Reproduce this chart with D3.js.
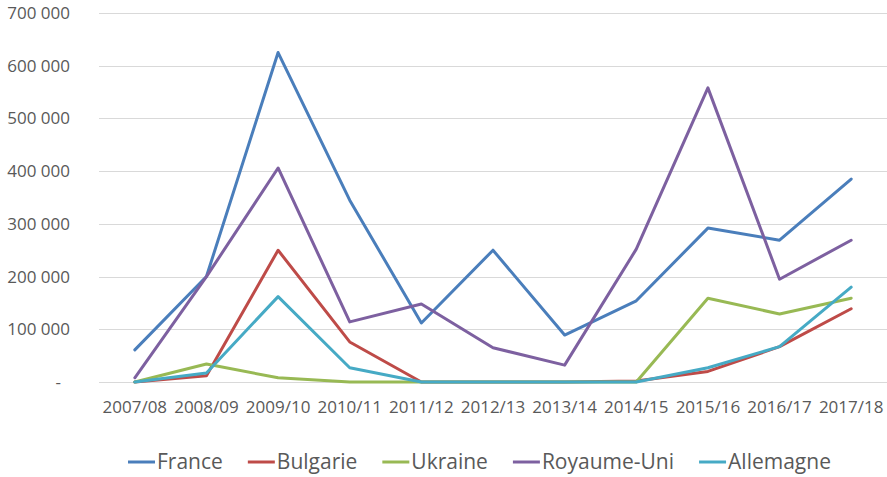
<!DOCTYPE html>
<html>
<head>
<meta charset="utf-8">
<script src="https://cdn.jsdelivr.net/npm/d3@7"></script>
<style>
  body { margin: 0; background: #fff; }
  text { font-family: "Open Sans", sans-serif; fill: #595959; }
</style>
</head>
<body>
<div id="chart"></div>
<script>
// seasons on the x axis
var seasons = ["2007/08", "2008/09", "2009/10", "2010/11", "2011/12", "2012/13",
               "2013/14", "2014/15", "2015/16", "2016/17", "2017/18"];
var yTicks = [0, 100000, 200000, 300000, 400000, 500000, 600000, 700000];

var france     = [61000, 200000, 625000, 345000, 112000, 250000, 89000, 154000, 292000, 269000, 385000];
var bulgarie   = [0, 12000, 250000, 76000, 0, 0, 0, 2000, 20000, 67000, 139000];
var ukraine    = [0, 34000, 8000, 0, 0, 0, 0, 0, 159000, 129000, 159000];
var royaumeUni = [8000, 200000, 406000, 114000, 148000, 65000, 32000, 252000, 558000, 195000, 269000];
var allemagne  = [0, 17000, 162000, 27000, 0, 0, 0, 0, 27000, 67000, 180000];

var seriesNames = ["France", "Bulgarie", "Ukraine", "Royaume-Uni", "Allemagne"];
var seriesValues = [france, bulgarie, ukraine, royaumeUni, allemagne];
var colors = ["#4a7ebb", "#be4b48", "#98b954", "#7d60a0", "#46aac5"];

function drawChart() {
  var w = 887, h = 477;
  var margin = {left: 99, right: 0, top: 13, bottom: 95};

  var svg = d3.select("#chart").append("svg")
    .attr("width", w)
    .attr("height", h);

  var x = d3.scaleBand()
    .domain(seasons)
    .range([margin.left, w - margin.right]);

  var y = d3.scaleLinear()
    .domain([0, 700000])
    .range([h - margin.bottom, margin.top]);

  // gridlines
  svg.append("g")
    .selectAll("line")
    .data(yTicks)
    .enter()
    .append("line")
    .attr("x1", margin.left)
    .attr("x2", w - margin.right)
    .attr("y1", function(d) { return Math.round(y(d)) + 0.5; })
    .attr("y2", function(d) { return Math.round(y(d)) + 0.5; })
    .attr("stroke", "#d9d9d9")
    .attr("stroke-width", 1);

  // y labels
  var fmt = function(d) {
    if (d === 0) return "-";
    return d3.format(",")(d).replace(/,/g, " ");
  };
  svg.append("g")
    .selectAll("text")
    .data(yTicks)
    .enter()
    .append("text")
    .attr("x", function(d) { return d === 0 ? 61 : 70; })
    .attr("y", function(d) { return y(d); })
    .attr("dy", "0.35em")
    .attr("text-anchor", "end")
    .style("font-size", "17px")
    .text(fmt);

  // x labels
  svg.append("g")
    .selectAll("text")
    .data(seasons)
    .enter()
    .append("text")
    .attr("x", function(d) { return x(d) + x.bandwidth() / 2; })
    .attr("y", h - margin.bottom + 31)
    .attr("text-anchor", "middle")
    .style("font-size", "17px")
    .text(function(d) { return d; });

  // lines
  var line = d3.line()
    .x(function(d, i) { return x(seasons[i]) + x.bandwidth() / 2; })
    .y(function(d) { return y(d); });

  svg.append("g")
    .selectAll("path")
    .data(seriesValues)
    .enter()
    .append("path")
    .attr("d", line)
    .attr("fill", "none")
    .attr("stroke", function(d, i) { return colors[i]; })
    .attr("stroke-width", 3)
    .attr("stroke-linejoin", "round")
    .attr("stroke-linecap", "round");

  // legend
  var legend = svg.append("g").attr("transform", "translate(0," + 462 + ")");
  var lx = 128;
  seriesNames.forEach(function(name, i) {
    var g = legend.append("g").attr("transform", "translate(" + lx + ",0)");
    g.append("line")
      .attr("x1", 0).attr("x2", 27)
      .attr("y1", 0).attr("y2", 0)
      .attr("stroke", colors[i])
      .attr("stroke-width", 3);
    var t = g.append("text")
      .attr("x", 29)
      .attr("dy", "0.35em")
      .style("font-size", "21px")
      .text(name);
    lx += 29 + t.node().getComputedTextLength() + 25;
  });
}

drawChart();
</script>
</body>
</html>
